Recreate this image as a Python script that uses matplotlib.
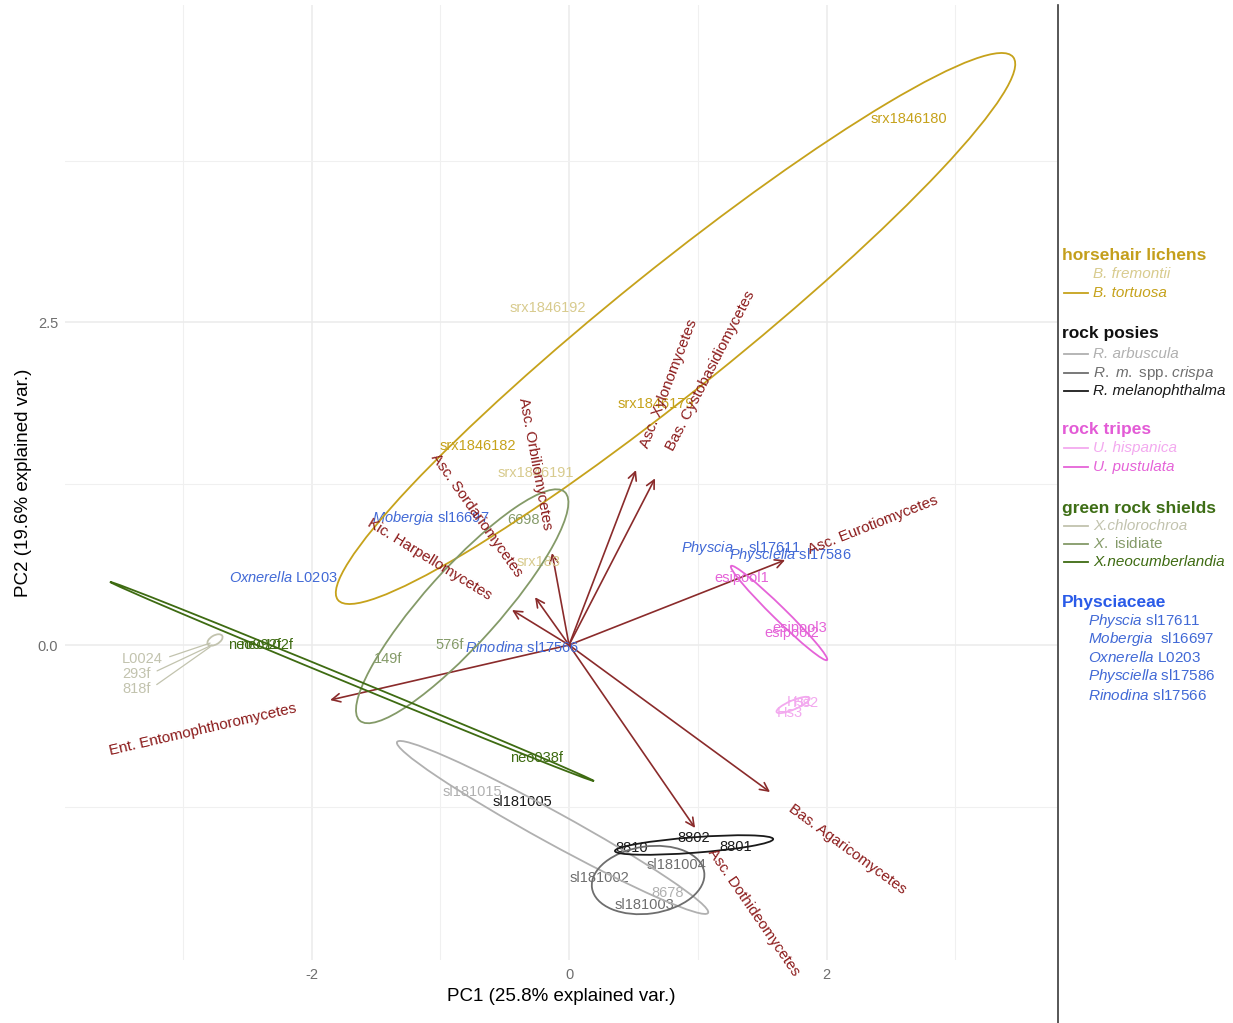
import numpy as np
import matplotlib
matplotlib.use('Agg')
import matplotlib.pyplot as plt
from matplotlib.patches import Ellipse
from matplotlib.lines import Line2D

plt.rcParams['font.family'] = ['Liberation Sans', 'DejaVu Sans']
plt.rcParams['mathtext.fontset'] = 'custom'
plt.rcParams['mathtext.rm'] = 'Liberation Sans'
plt.rcParams['mathtext.it'] = 'Liberation Sans:italic'
plt.rcParams['mathtext.bf'] = 'Liberation Sans:bold'

########################## loadings of the fungal classes
var_names = ['Ent. Entomophthoromycetes', 'Asc. Eurotiomycetes', 'Bas. Agaricomycetes',
             'Asc. Dothideomycetes', 'Asc. Xylonomycetes', 'Bas. Cystobasidiomycetes',
             'Asc. Orbiliomycetes', 'Asc. Sordariomycetes', 'Kic. Harpellomycetes']
var_pc1 = [-1.856, 1.678, 1.561, 0.979, 0.520, 0.668, -0.132, -0.264, -0.443]
var_pc2 = [-0.426, 0.658, -1.138, -1.416, 1.354, 1.290, 0.712, 0.370, 0.271]

########################## sample scores
sample_names = ['srx1846180', 'srx1846182', 'srx1846179', 'srx1846192', 'srx1846191', 'srx183',
                'sl181015', '8678', 'sl181004', 'sl181002', 'sl181003',
                '8810', '8802', '8801', 'sl181005',
                'Hs1', 'Hs2', 'Hs3', 'esipool1', 'esipool2', 'esipool3',
                'L0024', '293f', '818f', '6698', '576f', '149f',
                'neo092f', 'neo102f', 'neo038f',
                r'$\mathit{Physcia}$    sl17611', r'$\mathit{Mobergia}$ sl16697',
                r'$\mathit{Oxnerella}$ L0203', r'$\mathit{Physciella}$ sl17586',
                r'$\mathit{Rinodina}$ sl17566']
sample_pc1 = [2.641, -0.707, 0.676, -0.163, -0.256, -0.233,
              -0.750, 0.765, 0.835, 0.233, 0.583,
              0.489, 0.967, 1.297, -0.361,
              1.794, 1.841, 1.717, 1.344, 1.732, 1.794,
              -2.788, -2.773, -2.788, -0.357, -0.924, -1.406,
              -2.439, -2.353, -0.252,
              1.336, -1.076, -2.221, 1.717, -0.361]
sample_pc2 = [4.071, 1.540, 1.865, 2.608, 1.331, 0.642,
              -1.138, -1.920, -1.703, -1.803, -2.012,
              -1.571, -1.494, -1.563, -1.215,
              -0.441, -0.449, -0.526, 0.519, 0.093, 0.132,
              0.015, 0.000, -0.015, 0.967, 0.000, -0.108,
              0.000, 0.000, -0.875,
              0.751, 0.983, 0.526, 0.697, -0.023]
sample_group = ['tor', 'tor', 'tor', 'fre', 'fre', 'fre',
                'arb', 'arb', 'cri', 'cri', 'cri',
                'mel', 'mel', 'mel', 'mel',
                'his', 'his', 'his', 'pus', 'pus', 'pus',
                'chl', 'chl', 'chl', 'isi', 'isi', 'isi',
                'neo', 'neo', 'neo',
                'phy', 'phy', 'phy', 'phy', 'phy']

colors = {'fre': '#D8CB8E', 'tor': '#C6A21B',
          'arb': '#B0B0B0', 'cri': '#6E6E6E', 'mel': '#1A1A1A',
          'his': '#F3A9EF', 'pus': '#E563D8',
          'chl': '#C2C3AE', 'isi': '#849A68', 'neo': '#3E6B12',
          'phy': '#4169D6'}

########################## 68% concentration ellipses (centre, semi axes, angle)
ell_group = ['tor', 'arb', 'cri', 'mel', 'his', 'pus', 'chl', 'isi', 'neo']
ell_x = [0.827, -0.128, 0.614, 0.971, 1.740, 1.631, -2.750, -0.830, -1.686]
ell_y = [2.450, -1.412, -1.819, -1.548, -0.464, 0.248, 0.039, 0.300, -0.282]
ell_a = [3.36, 1.377, 0.44, 0.616, 0.139, 0.521, 0.065, 1.19, 2.031]
ell_b = [0.47, 0.12, 0.26, 0.06, 0.035, 0.05, 0.035, 0.29, 0.022]
ell_ang = [38.7, -28.7, 8.0, 4.3, 23.0, -44.3, 30.0, 48.0, -22.3]

W, H = 1233, 1023
fig = plt.figure(figsize=(W / 100, H / 100), dpi=100)
ax = fig.add_axes([65 / W, 63 / H, (1057 - 65) / W, (960 - 5) / H])
ax.set_xlim(-3.915, 3.79)
ax.set_ylim(-2.438, 4.954)

ax.set_xticks([-2, 0, 2])
ax.set_xticklabels(['-2', '0', '2'])
ax.set_xticks([-3, -1, 1, 3], minor=True)
ax.set_yticks([0, 2.5])
ax.set_yticklabels(['0.0', '2.5'])
ax.set_yticks([-1.25, 1.25, 3.75], minor=True)
ax.grid(which='major', color='#EBEBEB', lw=1.1, zorder=0)
ax.grid(which='minor', color='#F0F0F0', lw=0.8, zorder=0)
ax.set_axisbelow(True)
ax.tick_params(which='both', length=0, labelsize=10.5, labelcolor='#6E6E6E')
ax.tick_params(axis='x', pad=6)
ax.tick_params(axis='y', pad=5)
for s in ax.spines.values():
    s.set_visible(False)
ax.set_xlabel('PC1 (25.8% explained var.)', fontsize=13.5, labelpad=4)
ax.set_ylabel('PC2 (19.6% explained var.)', fontsize=13.5, labelpad=4)

# loading arrows
for vx, vy in zip(var_pc1, var_pc2):
    ax.annotate('', xy=(vx, vy), xytext=(0, 0),
                arrowprops=dict(arrowstyle='->,head_length=0.6,head_width=0.3',
                                color='#8A2B2B', lw=1.2, shrinkA=0, shrinkB=0),
                zorder=2)

# sample labels
for name, x, y, g in zip(sample_names, sample_pc1, sample_pc2, sample_group):
    if g == 'chl':
        continue
    ax.text(x, y, name, color=colors[g], fontsize=10.5, ha='center', va='center', zorder=3)

# chlorochroa labels pushed off to the left with leader lines
chl_idx = [i for i, g in enumerate(sample_group) if g == 'chl']
for k, i in enumerate(chl_idx):
    ax.annotate(sample_names[i], xy=(sample_pc1[i], sample_pc2[i]),
                xytext=(-3.472, -0.108 - 0.116 * k), textcoords='data',
                ha='left', va='center', fontsize=10.5, color=colors['chl'],
                arrowprops=dict(arrowstyle='-', color=colors['chl'], lw=0.9,
                                relpos=(1.0, 0.5), shrinkA=3, shrinkB=0),
                zorder=3)

# ellipses
for g, cx, cy, a, b, ang in zip(ell_group, ell_x, ell_y, ell_a, ell_b, ell_ang):
    ax.add_patch(Ellipse((cx, cy), 2 * a, 2 * b, angle=ang, fill=False,
                         edgecolor=colors[g], lw=1.3, zorder=4))

# variable names, placed beyond the arrow tips like ggbiplot
fig.canvas.draw()
renderer = fig.canvas.get_renderer()
origin = ax.transData.transform((0, 0))
for name, vx, vy in zip(var_names, var_pc1, var_pc2):
    tip = ax.transData.transform((vx, vy))
    d = tip - origin
    ang = np.degrees(np.arctan(d[1] / d[0]))
    probe = ax.text(0, 0, name, fontsize=11)
    w = probe.get_window_extent(renderer).width
    probe.remove()
    u = d / np.hypot(d[0], d[1])
    anchor = ax.transData.inverted().transform(tip + u * 0.18 * w)
    ax.text(anchor[0], anchor[1], name, rotation=ang, rotation_mode='anchor',
            ha='left' if vx > 0 else 'right', va='center', fontsize=11,
            color='#8B1A1A', zorder=5)

# separator line between plot and legend
fig.add_artist(Line2D([1058 / W, 1058 / W], [0, 1 - 5 / H], transform=fig.transFigure,
                      color='#3A3A3A', lw=1.2))

# legend
def fx(px):
    return px / W

def fy(py):
    return 1 - py / H

headers = [('horsehair lichens', 256, '#C49F1C'), ('rock posies', 334, '#111111'),
           ('rock tripes', 429, '#E35BD6'), ('green rock shields', 509, '#3E6E16'),
           ('Physciaceae', 602, '#2A5BE8')]
for txt, py, c in headers:
    fig.text(fx(1062), fy(py), txt, fontsize=12.5, fontweight='bold', color=c, va='center')

keys = [('B. fremontii', 274, 'fre', False, True),
        ('B. tortuosa', 293, 'tor', True, True),
        ('R. arbuscula', 354, 'arb', True, True),
        (r'$\mathit{R.}$ $\mathit{m.}$ spp. $\mathit{crispa}$', 373, 'cri', True, False),
        ('R. melanophthalma', 391, 'mel', True, True),
        ('U. hispanica', 448, 'his', True, True),
        ('U. pustulata', 467, 'pus', True, True),
        ('X.chlorochroa', 526, 'chl', True, True),
        (r'$\mathit{X.}$ isidiate', 544, 'isi', True, False),
        ('X.neocumberlandia', 562, 'neo', True, True)]
for txt, py, g, line, ital in keys:
    if line:
        fig.add_artist(Line2D([fx(1064), fx(1088)], [fy(py), fy(py)],
                              transform=fig.transFigure, color=colors[g], lw=1.3))
    fig.text(fx(1093), fy(py), txt, fontsize=11, color=colors[g], va='center',
             style='italic' if ital else 'normal')

phys_rows = [(r'$\mathit{Physcia}$ sl17611', 621), (r'$\mathit{Mobergia}$  sl16697', 639),
             (r'$\mathit{Oxnerella}$ L0203', 657), (r'$\mathit{Physciella}$ sl17586', 676),
             (r'$\mathit{Rinodina}$ sl17566', 696)]
for txt, py in phys_rows:
    fig.text(fx(1088), fy(py), txt, fontsize=11, color=colors['phy'], va='center')

plt.savefig('out.png', dpi=100)
